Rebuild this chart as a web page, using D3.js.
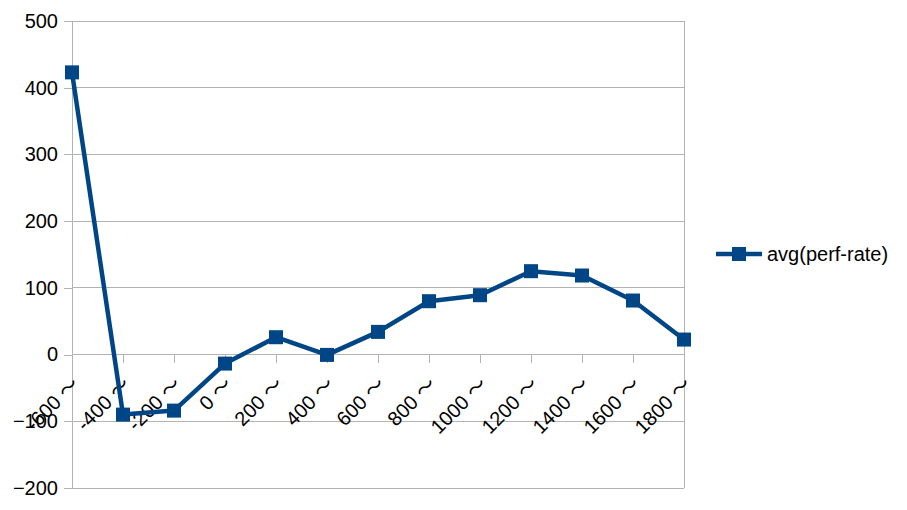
<!DOCTYPE html>
<html><head><meta charset="utf-8">
<script src="https://cdn.jsdelivr.net/npm/d3@7"></script>
<style>
body{margin:0;background:#fff;}
text{font-family:"Liberation Sans","Noto Sans CJK JP",sans-serif;}
</style></head>
<body>
<svg id="c" width="907" height="510"></svg>
<script>
const categories = ["-600 〜","-400 〜","-200 〜","0 〜","200 〜","400 〜","600 〜","800 〜","1000 〜","1200 〜","1400 〜","1600 〜","1800 〜"];
const values = [423, -90, -84, -13.5, 26, -0.5, 34, 80, 89, 125, 118.5, 81, 22.5];
const yTicks = [-200,-100,0,100,200,300,400,500];
const seriesName = "avg(perf-rate)";
const color = "#004586";

const svg = d3.select("#c");
const L = 72, R = 684, T = 21, B = 488;
const FS = 20;
const x = d3.scalePoint().domain(categories).range([L, R]).padding(0);
const y = d3.scaleLinear().domain([-200, 500]).range([B, T]);

// gridlines
svg.append("g").selectAll("line").data(yTicks).join("line")
  .attr("x1", L).attr("x2", R).attr("y1", d=>y(d)).attr("y2", d=>y(d))
  .attr("stroke", "#b3b3b3").attr("stroke-width", 1).attr("shape-rendering","crispEdges");
// frame right
svg.append("line").attr("x1", R).attr("x2", R).attr("y1", T).attr("y2", B)
  .attr("stroke", "#b3b3b3").attr("shape-rendering","crispEdges");

// y axis
const yAxis = d3.axisLeft(y).tickValues(yTicks).tickSize(8).tickPadding(6);
const gy = svg.append("g").attr("transform", `translate(${L},0)`).call(yAxis);
gy.select(".domain").attr("stroke", "#b3b3b3").attr("shape-rendering","crispEdges");
gy.selectAll(".tick line").attr("stroke", "#b3b3b3").attr("shape-rendering","crispEdges");
gy.selectAll("text").attr("font-size", FS).attr("fill", "#000")
  .attr("font-family", "Liberation Sans, sans-serif");

// x axis at zero
const xAxis = d3.axisBottom(x).tickSize(8).tickSizeOuter(0);
const gx = svg.append("g").attr("transform", `translate(0,${y(0)})`).call(xAxis);
gx.select(".domain").remove();
gx.selectAll(".tick line").attr("stroke", "#b3b3b3").attr("shape-rendering","crispEdges");
gx.selectAll("text")
  .attr("font-size", FS).attr("fill", "#000")
  .attr("text-anchor", "end")
  .attr("y", 0).attr("dy", "0")
  .attr("transform", "translate(8,31) rotate(-45)");

// line
const line = d3.line().x((d,i)=>x(categories[i])).y(d=>y(d));
svg.append("path").datum(values).attr("d", line)
  .attr("fill", "none").attr("stroke", color).attr("stroke-width", 4.5)
  .attr("stroke-linejoin", "round");
// markers
const ms = 14;
svg.append("g").selectAll("rect").data(values).join("rect")
  .attr("x", (d,i)=>x(categories[i]) - ms/2).attr("y", d=>y(d) - ms/2)
  .attr("width", ms).attr("height", ms).attr("fill", color);

// legend
const lg = svg.append("g");
lg.append("line").attr("x1", 716).attr("x2", 762).attr("y1", 254).attr("y2", 254)
  .attr("stroke", color).attr("stroke-width", 4.5);
lg.append("rect").attr("x", 739 - ms/2).attr("y", 254 - ms/2).attr("width", ms).attr("height", ms).attr("fill", color);
lg.append("text").attr("x", 767).attr("y", 261).attr("font-size", FS).attr("fill", "#000").text(seriesName);
</script>
</body></html>
